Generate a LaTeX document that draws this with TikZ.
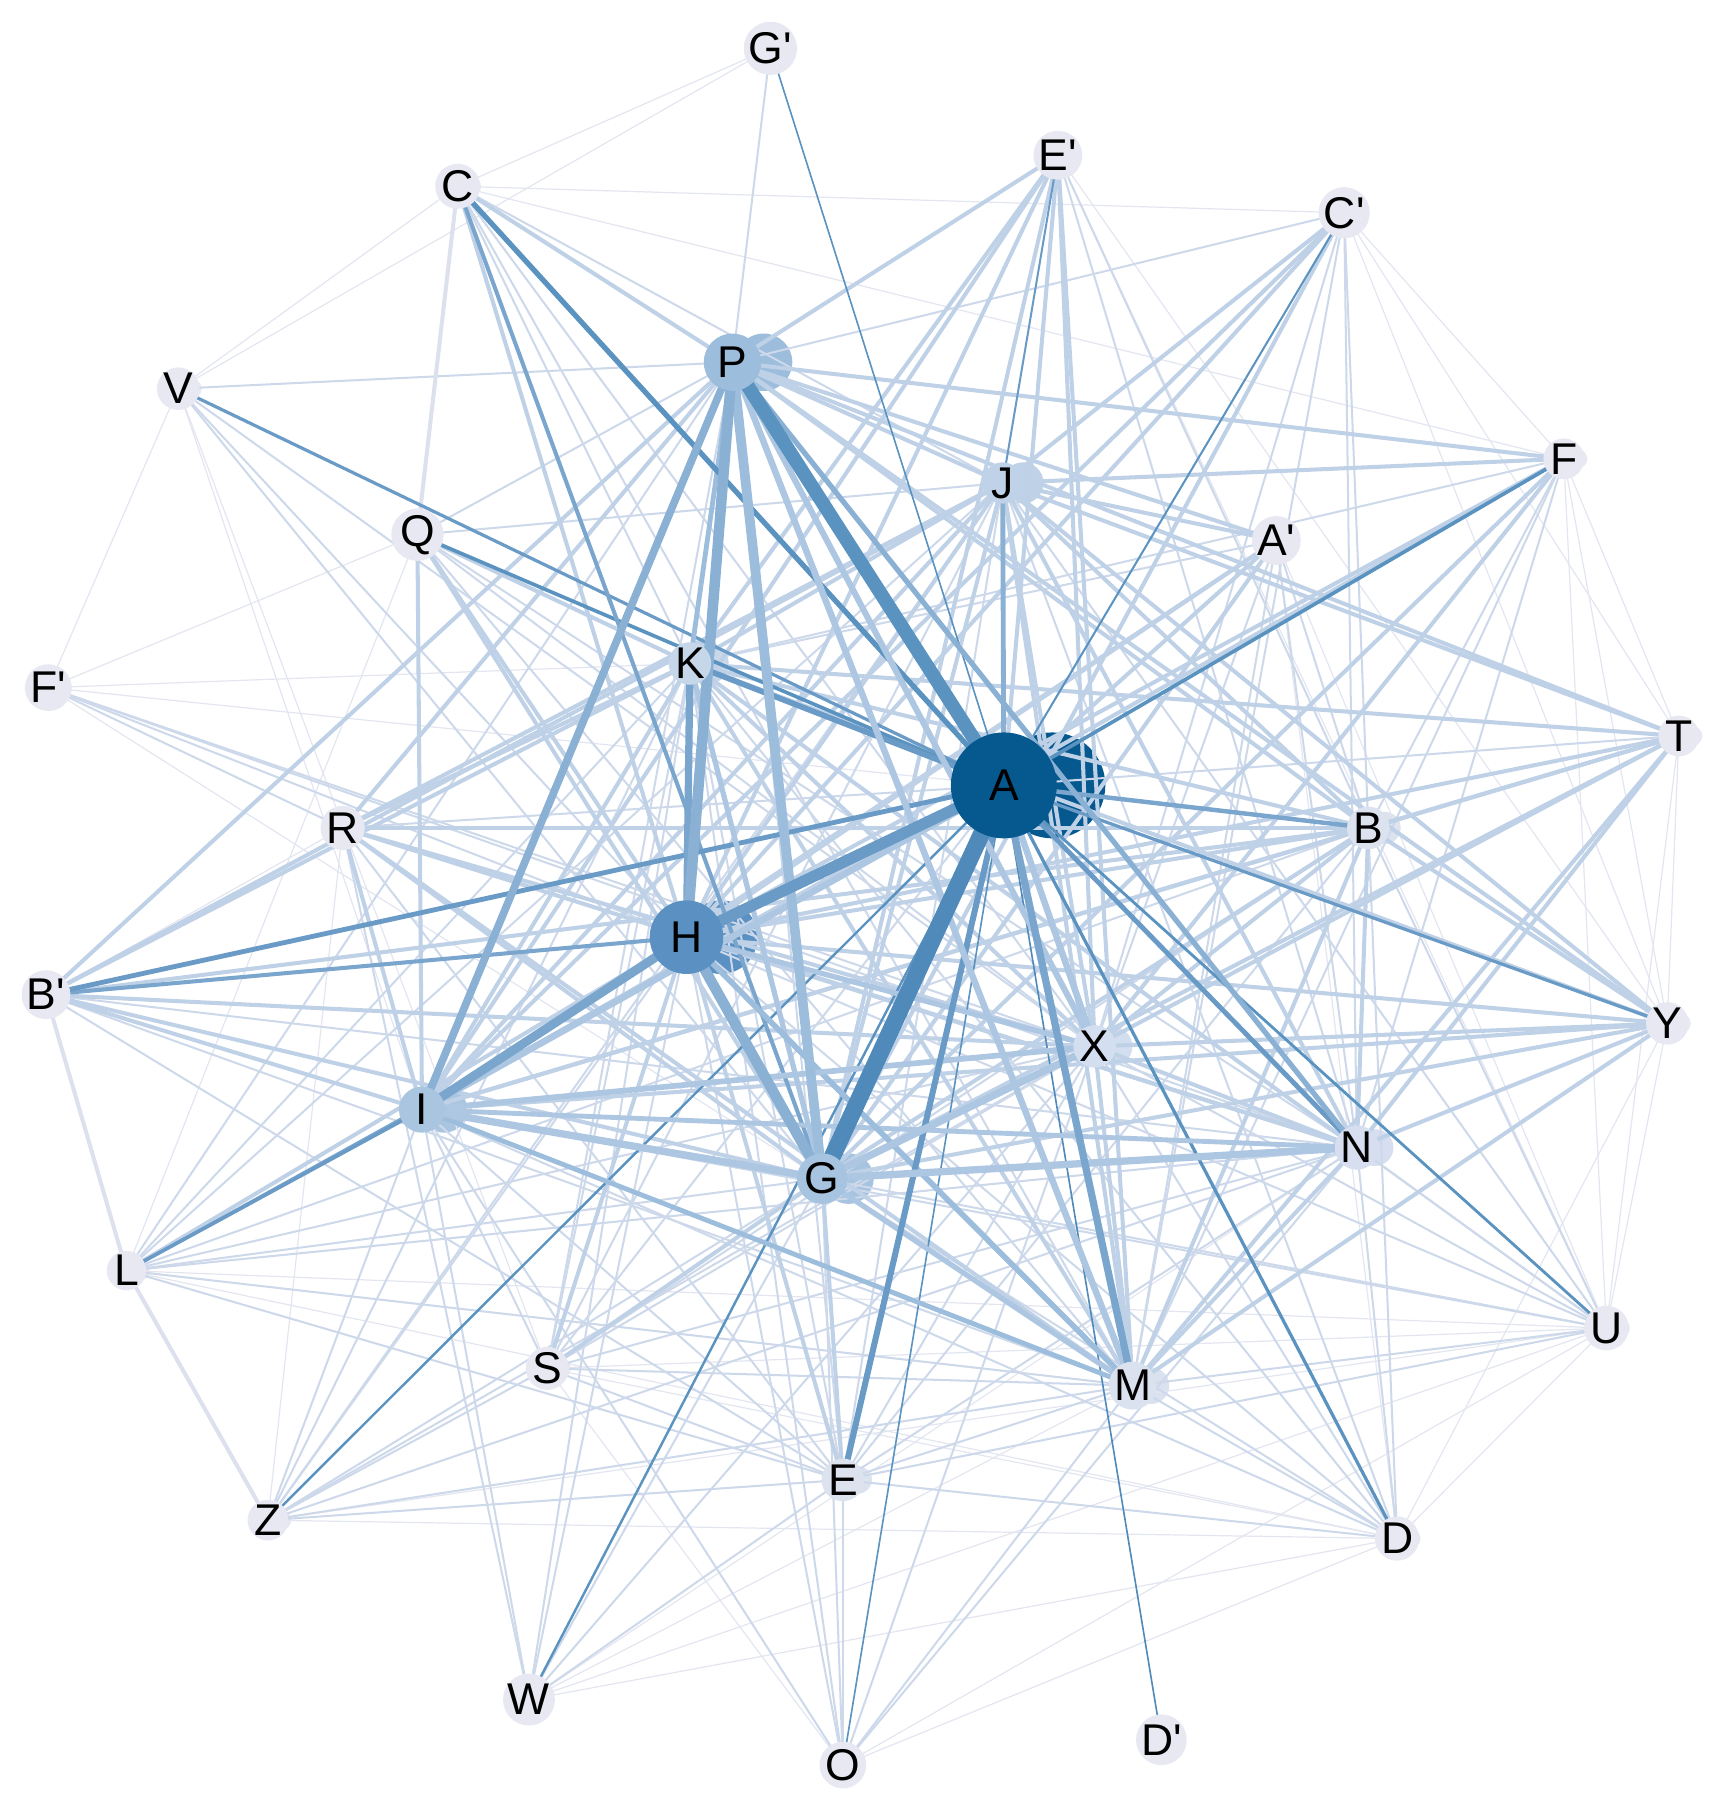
\documentclass[tikz,border=0pt]{standalone}
\usepackage{fontspec}
\setmainfont{Liberation Sans}[Ligatures=TeXOff]
\newcommand\nodefnt{\fontsize{11}{13}\selectfont}
\definecolor{k1}{HTML}{4F8ABA}
\definecolor{k2}{HTML}{5A92C0}
\definecolor{k3}{HTML}{6A9BC6}
\definecolor{k4}{HTML}{7AA6CE}
\definecolor{k5}{HTML}{8AB0D4}
\definecolor{k6}{HTML}{9CBDDB}
\definecolor{k7}{HTML}{ADC6E1}
\definecolor{cEA}{HTML}{E3E6F0}
\definecolor{cEB}{HTML}{CDD9EA}
\definecolor{cEC}{HTML}{BFD1E7}
\definecolor{cEL}{HTML}{DDE1EE}
\definecolor{nA}{HTML}{05598F}
\definecolor{nH}{HTML}{5B91C2}
\definecolor{nP}{HTML}{9CBDDB}
\definecolor{nG}{HTML}{A6C3DF}
\definecolor{nI}{HTML}{A9C5DF}
\definecolor{nJ}{HTML}{BFD2E7}
\definecolor{nK}{HTML}{C6D7EA}
\definecolor{nX}{HTML}{D3DEF0}
\definecolor{nN}{HTML}{D6DEF0}
\definecolor{nM}{HTML}{DAE1EF}
\definecolor{nB}{HTML}{DDE2EF}
\definecolor{nS}{HTML}{E8E8F2}
\pgfdeclarelayer{shadow}
\pgfdeclarelayer{edges}
\pgfsetlayers{shadow,edges,main}
\tikzset{
  vtx/.style={circle, inner sep=0pt, font=\nodefnt, text=black},
  sml/.style={vtx, minimum size=4.6pt, fill=nS},
  eA/.style={draw=cEA, line width=0.3pt},
  eB/.style={draw=cEB, line width=0.5pt},
  eC/.style={draw=cEC, line width=1.0pt},
  eL/.style={draw=cEL, line width=1.0pt},
}
\begin{document}
\begin{tikzpicture}[x=0.01cm,y=-0.01cm]
\useasboundingbox (0,0) rectangle (1507,1568);
% ---------- nodes ----------
\node[vtx,minimum size=26.2pt,fill=nA] (A) at (873,683) {A};
\node[vtx,minimum size=18.2pt,fill=nH] (H) at (597,815) {H};
\node[vtx,minimum size=14.2pt,fill=nP] (P) at (637,315) {P};
\node[vtx,minimum size=12.5pt,fill=nG] (G) at (715,1025) {G};
\node[vtx,minimum size=11.4pt,fill=nI] (I) at (367,965) {I};
\node[vtx,minimum size=10.2pt,fill=nJ] (J) at (872,420) {J};
\node[vtx,minimum size=10.2pt,fill=nK] (K) at (600,577) {K};
\node[vtx,minimum size=9.7pt,fill=nX] (X) at (952,910) {X};
\node[vtx,minimum size=9.1pt,fill=nN] (N) at (1180,998) {N};
\node[vtx,minimum size=9.1pt,fill=nM] (M) at (985,1205) {M};
\node[vtx,minimum size=8pt,fill=nB] (B) at (1190,720) {B};
\node[vtx,minimum size=6pt,fill=nB] (E) at (733,1287) {E};
\node[sml] (Gp) at (670,42) {G'};
\node[sml] (Ep) at (920,135) {E'};
\node[sml] (C) at (398,162) {C};
\node[sml] (Cp) at (1169,185) {C'};
\node[sml] (V) at (155,338) {V};
\node[sml] (F) at (1360,399) {F};
\node[sml] (Q) at (363,465) {Q};
\node[sml] (Ap) at (1110,470) {A'};
\node[sml] (Fp) at (42,598) {F'};
\node[sml] (T) at (1460,640) {T};
\node[sml] (R) at (298,720) {R};
\node[sml] (Bp) at (40,865) {B'};
\node[sml] (Y) at (1450,890) {Y};
\node[sml] (L) at (110,1105) {L};
\node[sml] (U) at (1397,1155) {U};
\node[sml] (S) at (476,1190) {S};
\node[sml] (Z) at (233,1322) {Z};
\node[sml] (D) at (1215,1338) {D};
\node[sml] (W) at (460,1478) {W};
\node[sml] (Dp) at (1010,1513) {D'};
\node[sml] (O) at (733,1535) {O};
% ---------- shadow discs ----------
\begin{pgfonlayer}{shadow}
\fill[nA] ([xshift=12pt]A.center) circle (13.1pt);
\fill[nH] ([xshift=8.5pt]H.center) circle (9.1pt);
\fill[nP] ([xshift=7.7pt]P.center) circle (7.1pt);
\fill[nG] ([xshift=6.5pt]G.center) circle (6.25pt);
\fill[nI] ([xshift=5.5pt]I.center) circle (5.7pt);
\fill[nJ] ([xshift=5pt]J.center) circle (5.1pt);
\fill[nK] ([xshift=4.5pt]K.center) circle (5.1pt);
\fill[nX] ([xshift=4.5pt]X.center) circle (4.85pt);
\fill[nN] ([xshift=4.5pt]N.center) circle (4.55pt);
\fill[nM] ([xshift=4.5pt]M.center) circle (4.55pt);
\fill[nB] ([xshift=4pt]B.center) circle (4pt);
\fill[nB] ([xshift=3.8pt]E.center) circle (3.4pt);
\foreach \n in {Gp,Ep,C,Cp,V,F,Q,Ap,Fp,T,R,Bp,Y,L,U,S,Z,D,W,Dp,O}
  \fill[nS] ([xshift=3.4pt]\n.center) circle (2.4pt);
\end{pgfonlayer}
% ---------- edges ----------
\begin{pgfonlayer}{edges}
\foreach \a/\b in {Gp/C, Gp/V, V/C, V/Fp, C/Cp, C/F, Fp/Q, Cp/F, Cp/T, Cp/Y, F/T, F/Y, F/U,
  T/Y, T/U, Y/U, Y/D, U/D, U/O, U/W, D/O, D/W, O/S, Z/D, Z/U, W/M, W/N, L/D, L/U, L/M, L/N,
  S/U, S/D, Bp/R, R/Z, Q/L, Ep/Y, Ep/U, Ap/D, Ap/U, G/Fp, K/Fp, A/Fp, V/S, V/I}
  \draw[eA] (\a.center) -- (\b.center);
\foreach \a/\b in {P/V, P/Gp, P/Q, P/Cp, H/R, H/V, H/O, G/V, I/W, I/O, K/F, K/Ap, K/W, K/O, K/C,
  J/Q, J/C, X/Z, X/W, X/O, X/Q, X/C, X/V, X/Cp, X/Ap, N/Q, N/Z, N/Bp, N/Ep, N/Cp, N/F, N/Ap, N/O,
  M/Z, M/Bp, M/O, M/Q, M/C, M/F, M/Cp, M/Ap, M/L,
  B/Ep, B/Ap, B/Cp, B/F, B/D, B/U, B/E, B/S, B/L,
  E/S, E/Z, E/L, E/W, E/O, E/D, E/U, E/Bp, E/R, A/T, A/S, A/R, Z/S, W/R,
  H/Z, H/W, H/D, H/U, G/Z, G/L, G/U, G/W, G/O, G/D, I/Z, I/S, I/E, I/U, I/D,
  K/D, K/U, K/E, K/S, K/L, K/Z, J/L, J/S, J/Z, J/E, J/D, J/U,
  X/S, X/E, X/U, X/D, X/L, N/U, N/D, N/E, N/S, N/L, M/U, M/D, M/E, M/S, P/L, P/S, P/E,
  Fp/R, Fp/H, Fp/X, Fp/N}
  \draw[eB] (\a.center) -- (\b.center);
\foreach \a/\b in {Z/L, L/Bp, C/Q}
  \draw[eL] (\a.center) -- (\b.center);
\foreach \a/\b in {P/J, P/B, P/Ap, P/F, P/T, P/Ep, P/R, P/Y, P/Bp, P/C,
  H/N, H/Y, H/B, H/S, H/E, H/J, H/Q, H/C, H/Ep, H/T, H/L, H/F, H/Ap, H/Cp,
  G/J, G/E, G/S, G/Bp, G/Y, G/B, G/T, G/Q, G/R, G/Ep, G/Ap, G/F, G/Cp,
  I/K, I/J, I/Bp, I/B, I/Y, I/T, I/Ep, I/R, I/F, I/Ap, I/Cp, I/Q,
  K/X, K/N, K/M, K/B, K/J, K/R, K/Bp, K/Ep, K/Q, K/Y, K/T,
  J/X, J/N, J/M, J/B, J/R, J/Bp, J/Y, J/T, J/Ap, J/Cp, J/F,
  X/N, X/M, X/B, X/Y, X/R, X/Bp, X/T, X/Ep, X/F,
  N/M, N/B, N/Y, N/R, N/T, M/B, M/Ep, M/T, M/Y, M/R,
  B/T, B/Y, B/R, B/Bp, A/Ep, A/Ap}
  \draw[eC] (\a.center) -- (\b.center);
\foreach \a/\b/\w/\c in {Dp/A/0.4/k1, O/A/0.4/k2, Gp/A/0.4/k2, Cp/A/0.5/k2, Ep/J/0.5/k3,
  Z/A/0.6/k2, W/A/0.6/k2, U/A/0.7/k2, L/A/0.7/k4, Y/A/0.8/k3, D/A/0.8/k2, V/A/0.8/k3,
  A/F/0.9/k2, Q/A/0.9/k2, L/I/0.9/k3, C/G/1.0/k4, Bp/H/1.0/k4,
  A/B/1.1/k4, A/N/1.2/k3, Bp/A/1.2/k3, A/J/1.2/k5, I/N/1.2/k7, I/M/1.2/k6, P/K/1.2/k6,
  C/A/1.3/k2, P/N/1.3/k5, H/X/1.3/k7, G/M/1.3/k7, K/G/1.3/k7,
  K/A/1.4/k3, H/M/1.4/k6, I/X/1.4/k7,
  A/E/1.5/k3, P/X/1.5/k7, P/M/1.6/k7, A/X/1.6/k7, A/I/1.6/k7,
  G/I/1.8/k7, G/N/1.8/k7, G/X/1.8/k7, K/H/1.8/k4, A/M/1.8/k4,
  P/I/1.9/k5, H/I/2.2/k4, P/G/2.4/k6, P/H/2.6/k5, H/G/2.6/k5,
  A/H/2.8/k3, A/P/3.4/k2, A/G/4.2/k1}
  \draw[line width=\w pt, draw=\c] (\a.center) -- (\b.center);
\end{pgfonlayer}
\end{tikzpicture}
\end{document}
